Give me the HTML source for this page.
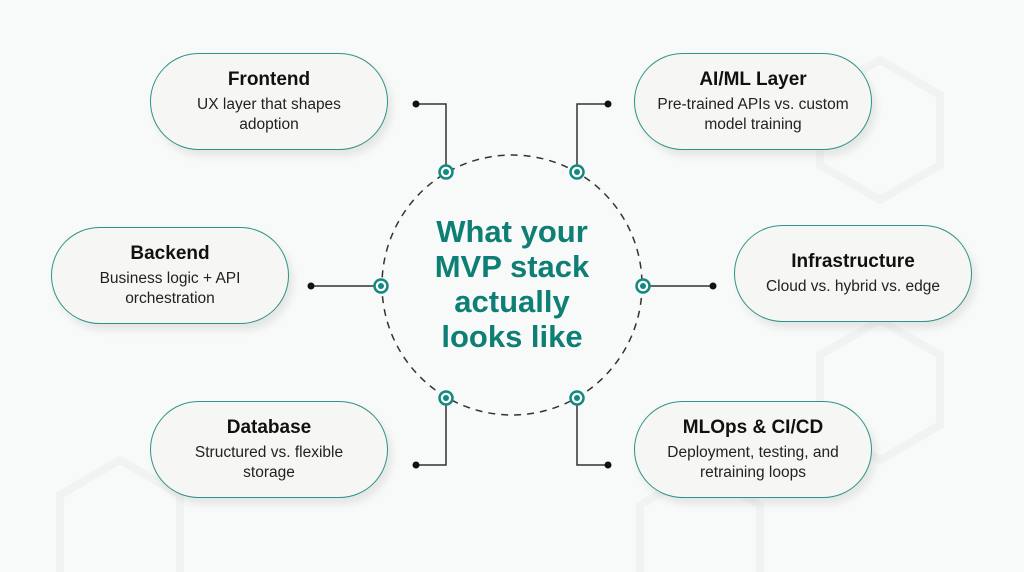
<!DOCTYPE html>
<html><head><meta charset="utf-8"><style>
html,body{margin:0;width:1024px;height:572px;overflow:hidden}
body{background:#f8f9f9;font-family:"Liberation Sans",sans-serif;position:relative}
.p{position:absolute;width:238px;height:97px;border:1.5px solid #2e9488;border-radius:50px;background:#f6f6f4;box-shadow:4px 6px 8px rgba(0,0,0,0.08);text-align:center;box-sizing:border-box;display:flex;flex-direction:column;justify-content:center}
.p b{font-size:19px;color:#111;margin-bottom:4px}
.p span{font-size:15.5px;color:#222;line-height:20px}
.t{position:absolute;left:422px;top:214px;width:180px;text-align:center;color:#0e7f74;font-weight:bold;font-size:31px;line-height:35px}
</style></head><body>
<svg width="1024" height="572" viewBox="0 0 1024 572" style="position:absolute;left:0;top:0;overflow:hidden">
<g fill="none" stroke="#f1f3f3" stroke-width="8">
<polygon points="880,60 940,95 940,165 880,200 820,165 820,95"/>
<polygon points="880,320 940,355 940,425 880,460 820,425 820,355"/>
<polyline points="60,572 60,495 120,460 180,495 180,572"/>
<polyline points="640,572 640,505 700,470 760,505 760,572"/>
</g>
<circle cx="512" cy="285" r="130" fill="none" stroke="#333" stroke-width="1.5" stroke-dasharray="7,6"/>
<g stroke="#333" stroke-width="1.5" fill="none">
<polyline points="416,104 446,104 446,172"/>
<polyline points="608,104 577,104 577,172"/>
<polyline points="311,286 381,286"/>
<polyline points="713,286 643,286"/>
<polyline points="446,398 446,465 416,465"/>
<polyline points="577,398 577,465 608,465"/>
</g>
<g fill="#111"><circle cx="416" cy="104" r="3.5"/><circle cx="608" cy="104" r="3.5"/><circle cx="311" cy="286" r="3.5"/><circle cx="713" cy="286" r="3.5"/><circle cx="416" cy="465" r="3.5"/><circle cx="608" cy="465" r="3.5"/></g>
<g fill="#fff" stroke="#148a7e" stroke-width="2.5">
<circle cx="446" cy="172" r="6.5"/><circle cx="577" cy="172" r="6.5"/><circle cx="381" cy="286" r="6.5"/><circle cx="643" cy="286" r="6.5"/><circle cx="446" cy="398" r="6.5"/><circle cx="577" cy="398" r="6.5"/></g>
<g fill="#148a7e"><circle cx="446" cy="172" r="3"/><circle cx="577" cy="172" r="3"/><circle cx="381" cy="286" r="3"/><circle cx="643" cy="286" r="3"/><circle cx="446" cy="398" r="3"/><circle cx="577" cy="398" r="3"/></g>
</svg>
<div class="t">What your<br>MVP stack<br>actually<br>looks like</div>
<div class="p" style="left:150px;top:53px"><b>Frontend</b><span>UX layer that shapes<br>adoption</span></div>
<div class="p" style="left:634px;top:53px"><b>AI/ML Layer</b><span>Pre-trained APIs vs. custom<br>model training</span></div>
<div class="p" style="left:51px;top:227px"><b>Backend</b><span>Business logic + API<br>orchestration</span></div>
<div class="p" style="left:734px;top:225px"><b>Infrastructure</b><span>Cloud vs. hybrid vs. edge</span></div>
<div class="p" style="left:150px;top:401px"><b>Database</b><span>Structured vs. flexible<br>storage</span></div>
<div class="p" style="left:634px;top:401px"><b>MLOps &amp; CI/CD</b><span>Deployment, testing, and<br>retraining loops</span></div>
</body></html>
